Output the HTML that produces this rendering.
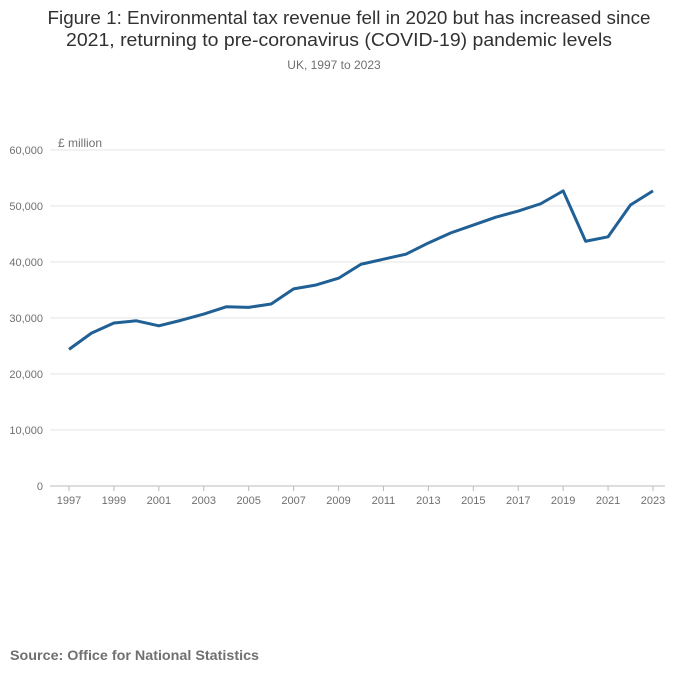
<!DOCTYPE html>
<html><head><meta charset="utf-8"><style>
body{margin:0;background:#fff;font-family:"Liberation Sans",sans-serif;}
#wrap{position:relative;width:700px;height:682px;}
</style></head><body>
<div id="wrap">
<svg id="chart" width="700" height="682">
<text x="349" y="24" text-anchor="middle" font-size="18" fill="#323132" textLength="603" lengthAdjust="spacingAndGlyphs">Figure 1: Environmental tax revenue fell in 2020 but has increased since</text>
<text x="339" y="46" text-anchor="middle" font-size="18" fill="#323132" textLength="546" lengthAdjust="spacingAndGlyphs">2021, returning to pre-coronavirus (COVID-19) pandemic levels</text>
<text x="334" y="69" text-anchor="middle" font-size="12" fill="#707071">UK, 1997 to 2023</text>
<text x="58" y="147" font-size="12" fill="#707071">£ million</text>
<g id="grid"></g><g id="xt"></g>
<path id="line" fill="none" stroke="#206095" stroke-width="3" stroke-linejoin="round"></path>
<text x="10" y="660" font-size="14" font-weight="bold" fill="#707071" textLength="249" lengthAdjust="spacingAndGlyphs">Source: Office for National Statistics</text>
</svg></div>
<script>
const years=[1997,1998,1999,2000,2001,2002,2003,2004,2005,2006,2007,2008,2009,2010,2011,2012,2013,2014,2015,2016,2017,2018,2019,2020,2021,2022,2023];
const revenue=[24400,27300,29100,29500,28600,29600,30700,32000,31900,32500,35200,35900,37100,39600,40500,41400,43400,45200,46600,48000,49100,50400,52700,43700,44500,50200,52700];
const yTicks=[0,10000,20000,30000,40000,50000,60000];
const xTickLabels=[1997,1999,2001,2003,2005,2007,2009,2011,2013,2015,2017,2019,2021,2023];
const NS='http://www.w3.org/2000/svg';
const x=v=>69+(v-1997)*(653-69)/26;
const y=v=>486-v*(336/60000);
const g=document.getElementById('grid');
yTicks.forEach(t=>{
 const l=document.createElementNS(NS,'line');
 l.setAttribute('x1',50);l.setAttribute('x2',665);l.setAttribute('y1',y(t));l.setAttribute('y2',y(t));
 l.setAttribute('stroke',t===0?'#bbb':'#e4e4e4');
 
 
 g.appendChild(l);
 const tx=document.createElementNS(NS,'text');
 tx.setAttribute('x',43);tx.setAttribute('y',y(t)+4);tx.setAttribute('text-anchor','end');
 tx.setAttribute('font-size','11');tx.setAttribute('fill','#707071');
 tx.textContent=t.toLocaleString('en-GB');
 
 
 g.appendChild(tx);
});
const xt=document.getElementById('xt');
xTickLabels.forEach(t=>{
 const l=document.createElementNS(NS,'line');
 l.setAttribute('x1',x(t));l.setAttribute('x2',x(t));l.setAttribute('y1',486);l.setAttribute('y2',491);l.setAttribute('stroke','#bbb');
 
 
 xt.appendChild(l);
 const tx=document.createElementNS(NS,'text');
 tx.setAttribute('x',x(t));tx.setAttribute('y',504);tx.setAttribute('text-anchor','middle');
 tx.setAttribute('font-size','11');tx.setAttribute('fill','#707071');
 tx.textContent=t;
 
 
 xt.appendChild(tx);
});
document.getElementById('line').setAttribute('d',years.map((yr,i)=>(i?'L':'M')+x(yr)+' '+y(revenue[i])).join(' '));
</script>
</body></html>
